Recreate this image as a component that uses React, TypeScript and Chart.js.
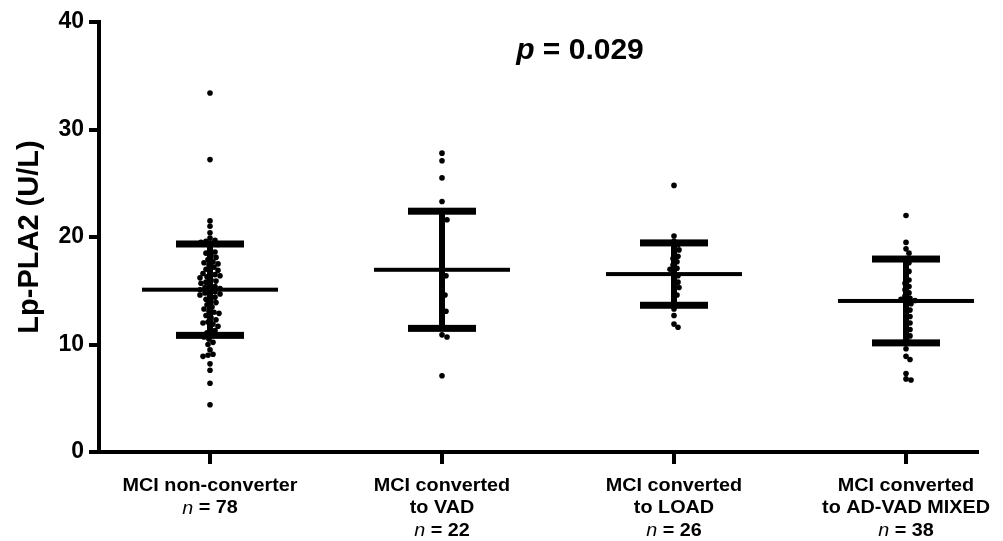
import React, { useEffect, useRef } from "react";
import { Chart, registerables } from "chart.js";

Chart.register(...registerables);

const categories: string[][] = [
  ["MCI non-converter"],
  ["MCI converted", "to VAD"],
  ["MCI converted", "to LOAD"],
  ["MCI converted", "to AD-VAD MIXED"],
];
const groupN = [78, 22, 26, 38];

const nonConverter = [
  33.4, 27.2, 21.5, 21.0, 20.4, 19.9, 19.7, 19.6, 19.5, 19.4, 19.3,
  18.8, 18.6, 18.5, 18.3, 18.1, 17.9, 17.7, 17.6, 17.5, 17.4, 17.2, 17.0,
  16.9, 16.7, 16.6, 16.5, 16.4, 16.3, 16.2, 16.0, 15.9, 15.8, 15.7,
  15.5, 15.4, 15.3, 15.2, 15.1, 15.0, 14.9,
  14.8, 14.7, 14.6, 14.5, 14.4, 14.2, 14.0, 13.9, 13.7, 13.5, 13.3,
  13.1, 13.0, 12.9, 12.7, 12.5, 12.3, 12.1, 12.0, 11.9, 11.7, 11.5, 11.3,
  11.1, 10.9, 10.7, 10.5, 10.2, 10.0, 9.5, 9.1, 9.0, 8.9, 8.2, 7.6, 6.4, 4.4,
];
const toVAD = [
  27.8, 27.1, 25.5, 23.3, 21.8, 21.6, 21.2, 20.5, 19.8, 18.9, 18.0,
  17.3, 16.7, 16.4, 15.0, 14.6, 13.4, 13.1, 12.3, 10.9, 10.7, 7.1,
];
const toLOAD = [
  24.8, 20.1, 19.6, 19.3, 19.0, 18.8, 18.5, 18.2, 18.0, 17.7, 17.4, 17.1, 17.0,
  16.7, 16.4, 16.1, 15.8, 15.5, 15.3, 15.0, 14.6, 14.1, 13.3, 12.7, 11.9, 11.6,
];
const toMixed = [
  22.0, 19.5, 18.9, 18.5, 18.0, 17.6, 17.2, 16.8, 16.4, 16.0,
  15.7, 15.4, 15.1, 14.8, 14.5, 14.3, 14.2, 14.1, 14.0, 13.8,
  13.5, 13.2, 12.9, 12.6, 12.3, 12.0, 11.7, 11.4, 11.1, 10.8,
  10.5, 10.2, 9.6, 8.9, 8.6, 7.3, 6.8, 6.7,
];
const groupValues = [nonConverter, toVAD, toLOAD, toMixed];
const groupMeans = [15.1, 16.95, 16.55, 14.05];
const groupSDs = [4.25, 5.45, 2.9, 3.9];

const yTicks = [0, 10, 20, 30, 40];
const yTitle = "Lp-PLA2 (U/L)";
const pLabel = "0.029";

const FONT = "'Liberation Sans', Arial, sans-serif";

// deterministic beeswarm layout (pixel space -> data offsets)
function swarm(values: number[], center: number, pxPerX: number, pxPerY: number, diam: number) {
  const order = values.map((v, i) => i).sort((a, b) => values[b] - values[a]);
  const placed: { x: number; y: number }[] = [];
  const out: { x: number; y: number }[] = new Array(values.length);
  for (const i of order) {
    const yp = values[i] * pxPerY;
    let dx = 0;
    for (let k = 0; k < 200; k++) {
      const cand = k === 0 ? 0 : (k % 2 === 1 ? 1 : -1) * Math.ceil(k / 2);
      let ok = true;
      for (const p of placed) {
        const ddx = p.x - cand;
        const ddy = p.y - yp;
        if (ddx * ddx + ddy * ddy < diam * diam) { ok = false; break; }
      }
      if (ok) { dx = cand; break; }
    }
    placed.push({ x: dx, y: yp });
    out[i] = { x: center + dx / pxPerX, y: values[i] };
  }
  return out;
}

export default function App() {
  const ref = useRef<HTMLCanvasElement>(null);
  useEffect(() => {
    document.body.style.margin = "0";
    const canvas = ref.current!;
    const pxPerX = 232;
    const pxPerY = 430 / 40;
    const datasets = groupValues.map((vals, gi) => ({
      type: "scatter" as const,
      data: swarm(vals, gi + 1, pxPerX, pxPerY, 4.8),
      pointRadius: 2.8,
      pointBackgroundColor: "#000",
      pointBorderColor: "#000",
      pointBorderWidth: 0,
      showLine: false,
    }));

    const SX = 1.1; // horizontal stretch of label text
    const LF = 18;

    const overlay = {
      id: "overlay",
      beforeDatasetsDraw(chart: any) {
        const ctx = chart.ctx;
        const xs = chart.scales.x;
        const ys = chart.scales.y;
        ctx.save();
        ctx.fillStyle = "#000";
        groupMeans.forEach((m, gi) => {
          const cx = xs.getPixelForValue(gi + 1);
          const ym = ys.getPixelForValue(m);
          const yu = ys.getPixelForValue(m + groupSDs[gi]);
          const yl = ys.getPixelForValue(m - groupSDs[gi]);
          ctx.fillRect(cx - 3, yu, 6, yl - yu);
          ctx.fillRect(cx - 34, yu - 3.5, 68, 7);
          ctx.fillRect(cx - 34, yl - 3.5, 68, 7);
          ctx.fillRect(cx - 68, ym - 2, 136, 4);
        });
        ctx.restore();
      },
      afterDraw(chart: any) {
        const ctx = chart.ctx;
        const xs = chart.scales.x;
        const ys = chart.scales.y;
        ctx.save();
        ctx.fillStyle = "#000";
        // y title
        ctx.save();
        ctx.translate(30, (ys.top + ys.bottom) / 2);
        ctx.rotate(-Math.PI / 2);
        ctx.font = `bold 29px ${FONT}`;
        ctx.textAlign = "center";
        ctx.textBaseline = "middle";
        ctx.fillText(yTitle, 0, 0);
        ctx.restore();
        // x labels
        categories.forEach((lines, gi) => {
          const cx = xs.getPixelForValue(gi + 1);
          ctx.save();
          ctx.translate(cx, 0);
          ctx.scale(SX, 1);
          ctx.textBaseline = "middle";
          let y = 486;
          ctx.font = `bold ${LF}px ${FONT}`;
          ctx.textAlign = "center";
          lines.forEach((ln) => {
            ctx.fillText(ln, 0, y);
            y += 22.5;
          });
          const a = "n";
          const b = ` = ${groupN[gi]}`;
          ctx.font = `italic ${LF}px ${FONT}`;
          const wa = ctx.measureText(a).width;
          ctx.font = `bold ${LF}px ${FONT}`;
          const wb = ctx.measureText(b).width;
          const sx = -(wa + wb) / 2;
          ctx.textAlign = "left";
          ctx.font = `italic ${LF}px ${FONT}`;
          ctx.fillText(a, sx, y);
          ctx.font = `bold ${LF}px ${FONT}`;
          ctx.fillText(b, sx + wa, y);
          ctx.restore();
        });
        // p value
        const pa = "p";
        const pb = ` = ${pLabel}`;
        ctx.font = `italic bold 30px ${FONT}`;
        const wpa = ctx.measureText(pa).width;
        ctx.font = `bold 30px ${FONT}`;
        const wpb = ctx.measureText(pb).width;
        const pcx = 580;
        const psx = pcx - (wpa + wpb) / 2;
        ctx.textAlign = "left";
        ctx.textBaseline = "alphabetic";
        ctx.font = `italic bold 30px ${FONT}`;
        ctx.fillText(pa, psx, 59);
        ctx.font = `bold 30px ${FONT}`;
        ctx.fillText(pb, psx + wpa, 59);
        ctx.restore();
      },
    };

    const chart = new Chart(canvas, {
      type: "scatter",
      data: { datasets },
      options: {
        animation: false,
        responsive: false,
        events: [],
        layout: { padding: { left: 0, right: 26, top: 22, bottom: 0 } },
        plugins: { legend: { display: false }, tooltip: { enabled: false } },
        scales: {
          x: {
            type: "linear",
            min: 1 - 111 / 232,
            max: 1 - 111 / 232 + 878 / 232,
            afterBuildTicks: (s: any) => {
              s.ticks = [1, 2, 3, 4].map((v) => ({ value: v }));
            },
            afterFit: (s: any) => {
              s.height = 89;
            },
            ticks: { callback: () => "", font: { size: 1 } },
            grid: { drawOnChartArea: false, drawTicks: true, tickLength: 12, lineWidth: 4, color: "#000" },
            border: { display: true, width: 4, color: "#000" },
          },
          y: {
            type: "linear",
            min: 0,
            max: 40,
            afterBuildTicks: (s: any) => {
              s.ticks = yTicks.map((v) => ({ value: v }));
            },
            afterFit: (s: any) => {
              s.width = 99;
            },
            ticks: {
              color: "#000",
              padding: 5,
              font: { family: FONT, size: 23, weight: "bold" },
            },
            grid: { drawOnChartArea: false, drawTicks: true, tickLength: 10, lineWidth: 4, color: "#000" },
            border: { display: true, width: 4, color: "#000" },
          },
        },
      },
      plugins: [overlay],
    });
    return () => chart.destroy();
  }, []);
  return (
    <div style={{ position: "absolute", left: 0, top: 0, width: 1003, height: 541 }}>
      <canvas ref={ref} width={1003} height={541} style={{ width: 1003, height: 541 }} />
    </div>
  );
}
